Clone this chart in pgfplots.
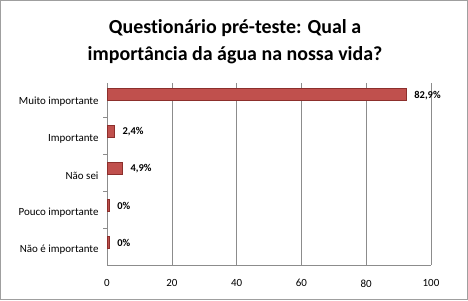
\documentclass[border=0pt]{standalone}
\usepackage{pgfplots}
\pgfplotsset{compat=1.18}
\usepackage{fontspec}
\setmainfont{Carlito}[Ligatures={NoCommon,NoDiscretionary,NoContextual}]
\definecolor{barred}{HTML}{C0504D}
\definecolor{bardark}{HTML}{8C2F2C}
\definecolor{gridgray}{HTML}{8C8C8C}
\begin{document}
\begin{tikzpicture}[x=1bp,y=1bp]
\path (0,0) rectangle (468,300);
\draw[gray!75,line width=1bp] (0.5,0.5) rectangle (467.5,299.5);
\node[align=center,font=\fontsize{20}{27}\selectfont\bfseries] at (235,258)
  {Questionário pré-teste: Qual a\\importância da água na nossa vida?};
\begin{axis}[
  at={(107bp,35bp)}, anchor=south west,
  scale only axis, width=324bp, height=182bp,
  xmin=0, xmax=100, ymin=-0.62, ymax=4.3,
  xtick={0,20,40,60,80,100},
  ytick={0,1,2,3,4},
  yticklabels={Não é importante,Pouco importante,Não sei,Importante,Muito importante},
  yticklabel style={yshift=-8bp, xshift=-5bp},
  minor ytick={0.37,1.37,2.37,3.37},
  major tick length=0pt,
  minor tick length=4bp,
  xtick style={draw=gridgray},
  x tick label style={yshift=-11bp},
  xmajorgrids, grid style={gridgray, line width=0.6bp},
  axis lines*=left,
  axis line style={gridgray, line width=0.8bp},
  every minor tick/.style={gridgray, line width=0.6bp},
  tick label style={font=\fontsize{11}{13}\selectfont},
  /pgf/number format/assume math mode=true,
  xbar, bar width=12bp,
  point meta=explicit symbolic,
  nodes near coords,
  nodes near coords style={font=\fontsize{10.5}{12}\selectfont\bfseries, anchor=west, xshift=4bp, yshift=-1bp},
]
\addplot[fill=barred, draw=bardark, line width=0.8bp] coordinates {
  (92.5,4) [82,9\%]
  (2.4,3) [2,4\%]
  (4.9,2) [4,9\%]
  (0.8,1) [0\%]
  (0.8,0) [0\%]
};
\end{axis}
\end{tikzpicture}
\end{document}
